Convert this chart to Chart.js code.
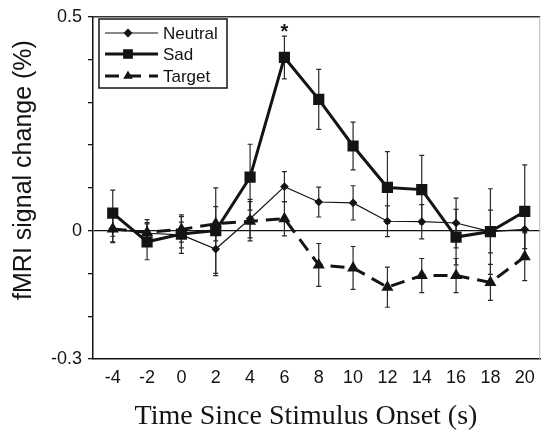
<!DOCTYPE html>
<html>
<head>
<meta charset="utf-8">
<script src="https://cdn.jsdelivr.net/npm/chart.js@4.4.0/dist/chart.umd.min.js"></script>
<style>
  html, body { margin: 0; padding: 0; background: #fff; }
</style>
</head>
<body>
<canvas id="fmriChart" width="549" height="432"></canvas>
<script>
// time points (s) and tick labels
const times = [-4, -2, 0, 2, 4, 6, 8, 10, 12, 14, 16, 18, 20];
const xTickLabels = ["-4", "-2", "0", "2", "4", "6", "8", "10", "12", "14", "16", "18", "20"];
const yTickValues = [-0.3, -0.2, -0.1, 0, 0.1, 0.2, 0.3, 0.4, 0.5];
const yTickLabels = ["-0.3", "", "", "0", "", "", "", "", "0.5"];

// mean signal change (%) and error bars
const neutral = [0.004, -0.006, -0.01, -0.043, 0.028, 0.103, 0.067, 0.065, 0.022, 0.021, 0.018, -0.002, 0.003];
const neutralErr = [0.032, 0.025, 0.03, 0.062, 0.045, 0.035, 0.035, 0.04, 0.036, 0.04, 0.058, 0.05, 0.045];
const sad = [0.041, -0.026, -0.008, 0.0, 0.125, 0.405, 0.307, 0.198, 0.101, 0.096, -0.015, -0.002, 0.045];
const sadErr = [0.054, 0.042, 0.045, 0.1, 0.077, 0.05, 0.07, 0.056, 0.084, 0.08, 0.065, 0.1, 0.109];
const target = [0.004, -0.004, 0.003, 0.016, 0.022, 0.028, -0.08, -0.087, -0.132, -0.105, -0.105, -0.121, -0.061];
const targetErr = [0.03, 0.03, 0.03, 0.04, 0.046, 0.04, 0.05, 0.05, 0.047, 0.04, 0.04, 0.042, 0.056];

const ink = "#141414";
const sans = "'Liberation Sans', Arial, sans-serif";
const serif = "'Liberation Serif', 'Times New Roman', serif";

function toPoints(values) {
  return values.map((v, i) => ({ x: times[i], y: v }));
}

// vertical error bars with small caps, drawn under the lines
const errorBars = {
  id: "errorBars",
  beforeDatasetsDraw(chart) {
    const { ctx, scales } = chart;
    ctx.save();
    ctx.strokeStyle = "#2a2a2a";
    ctx.lineWidth = 1.2;
    chart.data.datasets.forEach((ds) => {
      ds.errors.forEach((e, i) => {
        const px = scales.x.getPixelForValue(times[i]);
        const top = scales.y.getPixelForValue(ds.data[i].y + e);
        const bot = scales.y.getPixelForValue(ds.data[i].y - e);
        ctx.beginPath();
        ctx.moveTo(px, top);
        ctx.lineTo(px, bot);
        ctx.moveTo(px - 2.5, top);
        ctx.lineTo(px + 2.5, top);
        ctx.moveTo(px - 2.5, bot);
        ctx.lineTo(px + 2.5, bot);
        ctx.stroke();
      });
    });
    ctx.restore();
  },
};

// frame, legend box, axis titles and the significance star
const decorations = {
  id: "decorations",
  afterDraw(chart) {
    const { ctx, chartArea, scales } = chart;
    ctx.save();

    // top and right edges of the plot box
    ctx.strokeStyle = "#333";
    ctx.lineWidth = 1.5;
    ctx.beginPath();
    ctx.moveTo(chartArea.left, chartArea.top);
    ctx.lineTo(chartArea.right, chartArea.top);
    ctx.stroke();
    ctx.strokeStyle = "#bbb";
    ctx.lineWidth = 1;
    ctx.beginPath();
    ctx.moveTo(chartArea.right - 0.5, chartArea.top);
    ctx.lineTo(chartArea.right - 0.5, chartArea.bottom);
    ctx.stroke();

    // star above the sad peak
    const peak = 5;
    ctx.fillStyle = ink;
    ctx.font = "bold 20px " + sans;
    ctx.textAlign = "center";
    ctx.textBaseline = "middle";
    ctx.fillText("*", scales.x.getPixelForValue(times[peak]),
      scales.y.getPixelForValue(sad[peak] + sadErr[peak]) - 4);

    // legend
    const lx = 99, ly = 19, lw = 128, lh = 69;
    ctx.fillStyle = "#fff";
    ctx.fillRect(lx, ly, lw, lh);
    ctx.strokeStyle = ink;
    ctx.lineWidth = 1.5;
    ctx.strokeRect(lx, ly, lw, lh);
    const rows = [33, 54, 76];
    chart.data.datasets.forEach((ds, i) => {
      const yy = rows[i];
      ctx.save();
      ctx.strokeStyle = ink;
      ctx.lineWidth = ds.borderWidth;
      ctx.setLineDash(ds.borderDash || []);
      ctx.beginPath();
      ctx.moveTo(105, yy);
      ctx.lineTo(158, yy);
      ctx.stroke();
      ctx.restore();
      Chart.helpers.drawPoint(ctx, {
        pointStyle: ds.pointStyle,
        radius: ds.pointRadius,
        rotation: 0,
        borderWidth: 1,
      }, 128, yy);
      ctx.fillStyle = ink;
      ctx.fill();
      ctx.font = "17px " + sans;
      ctx.textAlign = "left";
      ctx.textBaseline = "middle";
      ctx.fillText(ds.label, 163, yy + 1);
    });

    // axis titles
    ctx.fillStyle = ink;
    ctx.font = "28px " + serif;
    ctx.textAlign = "center";
    ctx.textBaseline = "alphabetic";
    ctx.fillText("Time Since Stimulus Onset (s)", 306, 424);

    ctx.translate(31, 170);
    ctx.rotate(-Math.PI / 2);
    ctx.font = "25px " + sans;
    ctx.fillText("fMRI signal change (%)", 0, 0);
    ctx.restore();
  },
};

const ctx = document.getElementById("fmriChart");
new Chart(ctx, {
  type: "line",
  data: {
    datasets: [
      {
        label: "Neutral",
        data: toPoints(neutral),
        errors: neutralErr,
        borderColor: ink,
        backgroundColor: ink,
        borderWidth: 1.2,
        pointStyle: "rectRot",
        pointRadius: 3.5,
        pointBackgroundColor: ink,
      },
      {
        label: "Sad",
        data: toPoints(sad),
        errors: sadErr,
        borderColor: ink,
        backgroundColor: ink,
        borderWidth: 3,
        pointStyle: "rect",
        pointRadius: 5.8,
        pointBackgroundColor: ink,
      },
      {
        label: "Target",
        data: toPoints(target),
        errors: targetErr,
        borderColor: ink,
        backgroundColor: ink,
        borderWidth: 3,
        borderDash: [14, 8],
        pointStyle: "triangle",
        pointRadius: 4,
        pointBackgroundColor: ink,
      },
    ],
  },
  options: {
    responsive: false,
    animation: false,
    layout: { padding: { top: 14, right: 1, left: 0, bottom: 0 } },
    scales: {
      x: {
        type: "linear",
        min: -5.15,
        max: 20.9,
        afterBuildTicks: (scale) => {
          scale.ticks = times.map((t) => ({ value: t }));
        },
        afterFit: (scale) => {
          scale.height = 73;
        },
        grid: { display: false, drawTicks: false },
        border: { display: true, color: ink, width: 1.5 },
        ticks: {
          padding: 8,
          color: ink,
          font: { family: sans, size: 18 },
          maxRotation: 0,
          autoSkip: false,
          callback: (value, index) => xTickLabels[index],
        },
      },
      y: {
        min: -0.3,
        max: 0.5,
        afterBuildTicks: (scale) => {
          scale.ticks = yTickValues.map((v) => ({ value: v }));
        },
        afterFit: (scale) => {
          scale.width = 93;
        },
        grid: {
          color: (c) => (c.tick && Math.abs(c.tick.value) < 1e-9 ? ink : "rgba(0,0,0,0)"),
          tickColor: ink,
          tickLength: 5,
          lineWidth: 1.3,
        },
        border: { display: true, color: ink, width: 1.5 },
        ticks: {
          padding: 6,
          color: ink,
          font: { family: sans, size: 18 },
          autoSkip: false,
          callback: (value, index) => yTickLabels[index],
        },
      },
    },
    plugins: {
      legend: { display: false },
      tooltip: { enabled: false },
    },
  },
  plugins: [errorBars, decorations],
});
</script>
</body>
</html>
